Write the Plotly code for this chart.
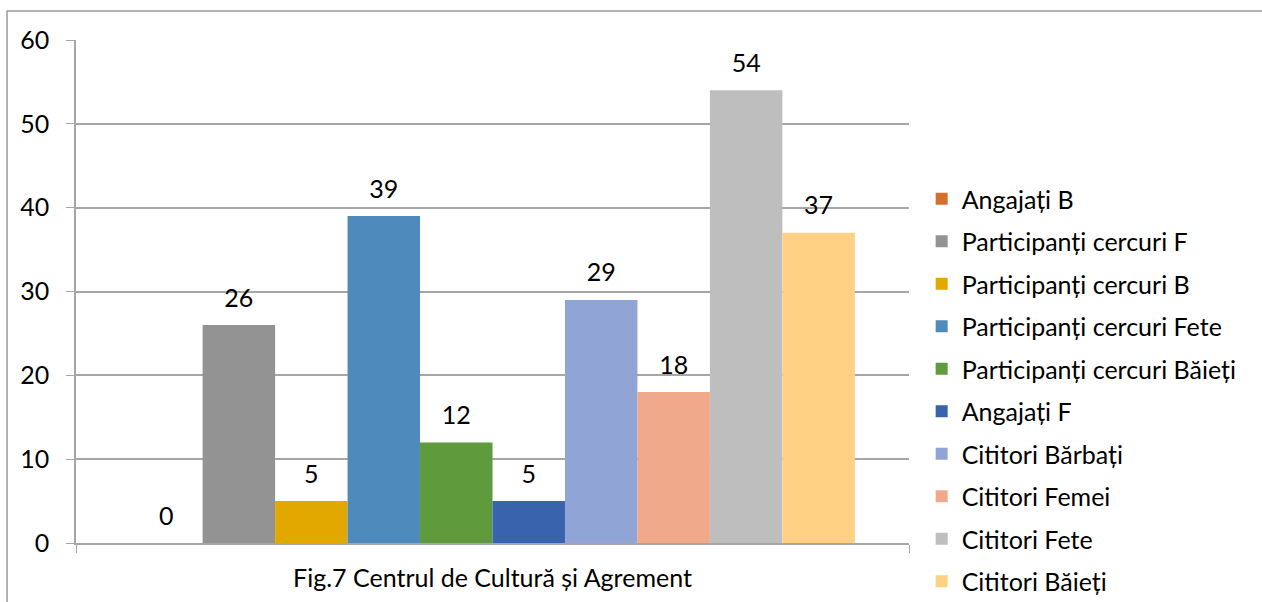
import plotly.graph_objects as go

category = ["Fig.7 Centrul de Cultură și Agrement"]
series_names = [
    "Angajați B",
    "Participanți cercuri F",
    "Participanți cercuri B",
    "Participanți cercuri Fete",
    "Participanți cercuri Băieți",
    "Angajați F",
    "Cititori Bărbați",
    "Cititori Femei",
    "Cititori Fete",
    "Cititori Băieți",
]
series_values = [0, 26, 5, 39, 12, 5, 29, 18, 54, 37]
series_colors = [
    "#d46f2c", "#939393", "#e2a800", "#4f8abd", "#5f9a3d",
    "#3a63ad", "#90a5d5", "#f0a98b", "#bebebe", "#fed185",
]
y_ticks = [0, 10, 20, 30, 40, 50, 60]

FONT = "Lato"
FS = 25
fig = go.Figure()
for name, val, col in zip(series_names, series_values, series_colors):
    fig.add_trace(go.Bar(
        x=category, y=[val], name=name, marker=dict(color=col, line=dict(width=0)),
        legendgroup=name, hoverinfo="skip",
    ))
for name, val in zip(series_names, series_values):
    fig.add_trace(go.Scatter(
        x=category, y=[val], mode="markers+text", text=[str(val)],
        textposition="top center", marker=dict(size=18, opacity=0),
        textfont=dict(family=FONT, size=FS, color="#000"),
        showlegend=False, hoverinfo="skip", cliponaxis=False,
    ))

fig.update_layout(
    width=1262, height=602,
    paper_bgcolor="white", plot_bgcolor="white",
    margin=dict(l=76, r=353, t=40, b=59, autoexpand=False),
    barmode="group", bargap=0.13, bargroupgap=0,
    scattermode="group", scattergap=0.13,
    font=dict(family=FONT, size=FS, color="#000"),
    legend=dict(x=1.0152, xanchor="left", y=0.7296, yanchor="top",
                font=dict(family=FONT, size=FS, color="#000"),
                tracegroupgap=7, itemwidth=30, traceorder="grouped",
                maxheight=800),
    xaxis=dict(showline=True, linecolor="#a6a6a6", linewidth=1.5,
               ticks="outside", tickson="boundaries", ticklen=8, tickcolor="#a6a6a6",
               ticklabelstandoff=12, tickfont=dict(family=FONT, size=FS, color="#000")),
    yaxis=dict(range=[0, 60], tickvals=y_ticks, showgrid=True, gridcolor="#a6a6a6",
               gridwidth=1.5, showline=True, linecolor="#a6a6a6", linewidth=1.5,
               ticks="outside", ticklen=8, tickcolor="#a6a6a6", ticklabelstandoff=12,
               zeroline=False, tickfont=dict(family=FONT, size=FS, color="#000")),
    shapes=[dict(type="rect", xref="paper", yref="paper",
                 x0=-0.0828, x1=1.45, y0=-0.15, y1=1.0577,
                 line=dict(color="#9a9a9a", width=1.5), fillcolor="rgba(0,0,0,0)", layer="below")],
)
fig.write_html("out.html", config={"displayModeBar": False},
               post_script="document.body.style.margin='0';document.body.style.overflow='hidden';")
